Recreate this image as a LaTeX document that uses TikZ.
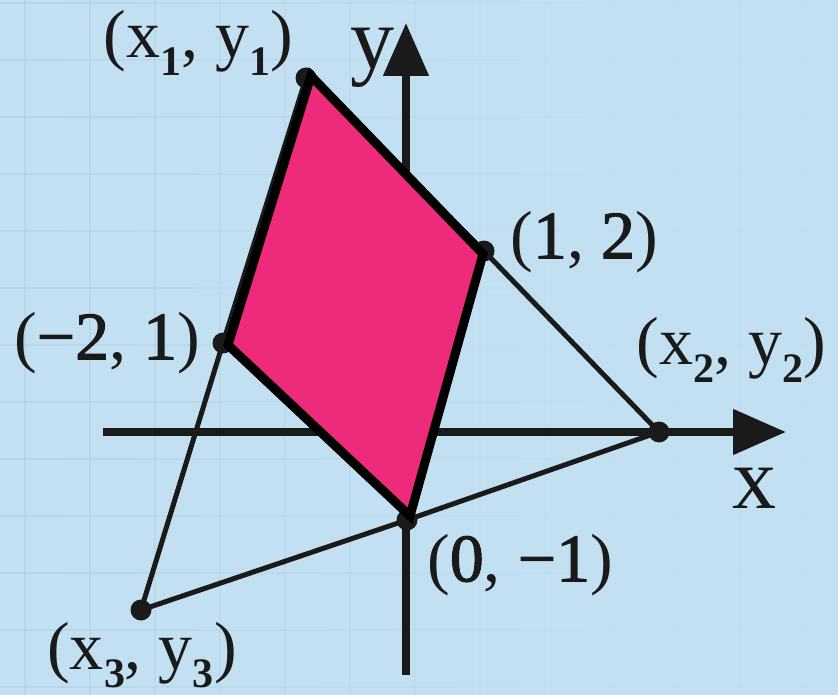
\documentclass[tikz,border=0pt]{standalone}
\usepackage{fontspec}
\setmainfont{Liberation Serif}
\newfontfamily\digfont[FakeBold=1.6]{Liberation Serif}
\usetikzlibrary{arrows.meta}
\definecolor{bgblue}{HTML}{C2E0F2}
\definecolor{gridblue}{HTML}{A9CDE4}
\definecolor{pinkfill}{HTML}{EE2A7B}
\definecolor{ink}{HTML}{1A1A1A}
\newcommand{\sbs}[1]{\raisebox{-0.27em}{\fontsize{42}{42}\selectfont\bfseries #1}}
\newcommand{\dg}[1]{{\digfont #1}}
\begin{document}
\begin{tikzpicture}[x=1pt,y=-1pt,
  axisline/.style={ink,line width=8pt,-{Triangle[length=53pt,width=44pt]}},
  triline/.style={ink,line width=5pt,line join=round},
  ptdot/.style={circle,fill=ink,inner sep=0pt,minimum size=21pt},
  ptlabel/.style={font=\fontsize{68}{68}\selectfont,inner sep=0pt,text=ink},
  axlabel/.style={font=\fontsize{88}{88}\selectfont,inner sep=0pt,text=ink},
  parallelo/.style={fill=pinkfill,draw=black,line width=9pt,line join=miter}]
\useasboundingbox (0,0) rectangle (838,695);
\fill[bgblue] (0,0) rectangle (838,695);
% faint grid, fading to the right
\foreach \i in {0,...,12}{
  \pgfmathsetmacro{\op}{max(0.05,0.45-0.045*\i)}
  \pgfmathsetmacro{\xa}{25+65*\i}
  \pgfmathsetmacro{\xb}{25+65*(\i+1)}
  \draw[gridblue,line width=2pt,opacity=\op] (\xa,0) -- (\xa,695);
  \foreach \j in {0,...,12}{
    \pgfmathsetmacro{\yy}{3+57*\j}
    \draw[gridblue,line width=2pt,opacity=\op] (\xa-25,\yy) -- (\xb-25,\yy);
  }
}
% points
\coordinate (T1) at (306,78);
\coordinate (T2) at (659,432);
\coordinate (T3) at (141,610);
\coordinate (M12) at (484,251);
\coordinate (M23) at (407,520);
\coordinate (M13) at (223,343);
\coordinate (P1) at (311,76);
\coordinate (P2) at (483,254);
\coordinate (P3) at (410,516);
\coordinate (P4) at (228,345);
\coordinate (xs) at (103,432);
\coordinate (xe) at (786,432);
\coordinate (ys) at (406,675);
\coordinate (ye) at (406,23);
% axes
\draw[axisline] (xs) -- (xe);
\draw[axisline] (ys) -- (ye);
% triangle
\draw[triline] (T1) -- (M13) -- (T3) -- (M23) -- (T2) -- (M12) -- cycle;
\node[ptdot] (d1) at (T1) {};
\node[ptdot] (d2) at (T2) {};
\node[ptdot] (d3) at (T3) {};
\node[ptdot] (d12) at (M12) {};
\node[ptdot] (d23) at (M23) {};
\node[ptdot] (d13) at (M13) {};
% parallelogram
\draw[parallelo] (P1) -- (P2) -- (P3) -- (P4) -- cycle;
% labels
\node[ptlabel] (l1) at (198,43) {(x\sbs{1}, y\sbs{1})};
\node[ptlabel] (l2) at (731,350) {(x\sbs{2}, y\sbs{2})};
\node[ptlabel] (l3) at (142,655) {(x\sbs{3}, y\sbs{3})};
\node[ptlabel] (l12) at (584,242) {(\dg{1}, \dg{2})};
\node[ptlabel] (l13) at (107,343) {(\dg{−2}, \dg{1})};
\node[ptlabel] (l23) at (520,565) {(\dg{0}, \dg{−1})};
\node[axlabel] (ly) at (372,58) {y};
\node[axlabel] (lx) at (754,488) {x};
\end{tikzpicture}
\end{document}
